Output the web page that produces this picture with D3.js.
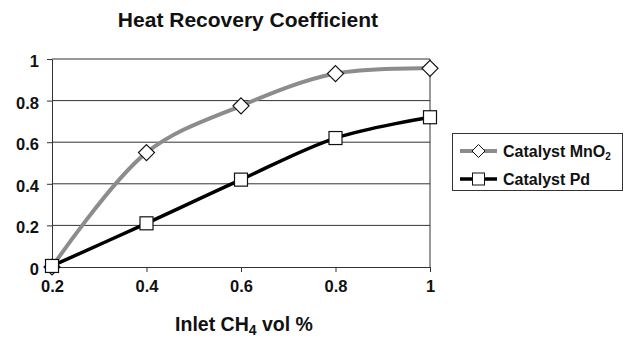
<!DOCTYPE html>
<html><head><meta charset="utf-8">
<script src="https://cdn.jsdelivr.net/npm/d3@7"></script>
<style>body{margin:0;background:#fff}svg{display:block}text{font-family:"Liberation Sans",Arial,sans-serif;font-weight:bold;fill:#111}</style>
</head><body><svg id="c" width="628" height="340"></svg>
<script>
const xValues=[0.2,0.4,0.6,0.8,1.0];
const mno2=[0.0,0.55,0.775,0.93,0.955];
const pd=[0.005,0.21,0.42,0.62,0.72];
const xTicks=[0.2,0.4,0.6,0.8,1];
const yTicks=[0,0.2,0.4,0.6,0.8,1];
const seriesNames=["Catalyst MnO","Catalyst Pd"];

const svg=d3.select("#c");
const x=d3.scaleLinear().domain([0.2,1]).range([52,430]);
const y=d3.scaleLinear().domain([0,1]).range([267,59]);

svg.append("g").selectAll("line").data(yTicks.filter(d=>d>0)).join("line")
 .attr("x1",x(0.2)).attr("x2",x(1)).attr("y1",d=>y(d)).attr("y2",d=>y(d))
 .attr("stroke","#333").attr("stroke-width",1);
svg.append("line").attr("x1",x(1)).attr("x2",x(1)).attr("y1",y(1)).attr("y2",y(0)).attr("stroke","#333");

const yAxis=svg.append("g").attr("transform",`translate(${x(0.2)},0)`)
 .call(d3.axisLeft(y).tickValues(yTicks).tickFormat(d3.format("")).tickSize(5).tickSizeOuter(0));
const xAxis=svg.append("g").attr("transform",`translate(0,${y(0)})`)
 .call(d3.axisBottom(x).tickValues(xTicks).tickFormat(d3.format("")).tickSize(5).tickSizeOuter(0));
[yAxis,xAxis].forEach(a=>{a.select(".domain").attr("stroke","#333");a.selectAll(".tick line").attr("stroke","#333");
 a.selectAll("text").style("font-size","16.5px").style("font-family","Liberation Sans, Arial, sans-serif").style("font-weight","bold").attr("fill","#111");});
yAxis.selectAll("text").attr("x",-13).attr("dy","0.45em");
xAxis.selectAll("text").attr("y",13);

const line=d3.line().x((d,i)=>x(xValues[i])).y(d=>y(d)).curve(d3.curveCatmullRom.alpha(0.5));
svg.append("path").datum(mno2).attr("d",line).attr("fill","none").attr("stroke","#8c8c8c").attr("stroke-width",4);
svg.append("path").datum(pd).attr("d",line).attr("fill","none").attr("stroke","#000").attr("stroke-width",3.5);

function diamondPath(cx,cy,r){return `M${cx},${cy-r}L${cx+r},${cy}L${cx},${cy+r}L${cx-r},${cy}Z`;}
svg.append("g").selectAll("path").data(mno2).join("path")
 .attr("d",(d,i)=>diamondPath(x(xValues[i]),y(d),8)).attr("fill","#fff").attr("stroke","#111").attr("stroke-width",1.2);
svg.append("g").selectAll("rect").data(pd).join("rect")
 .attr("x",(d,i)=>x(xValues[i])-6.5).attr("y",d=>y(d)-6.5).attr("width",13).attr("height",13)
 .attr("fill","#fff").attr("stroke","#111").attr("stroke-width",1.2);

svg.append("text").attr("x",248).attr("y",27).attr("text-anchor","middle").style("font-size","21px").text("Heat Recovery Coefficient");
const xt=svg.append("text").attr("x",244).attr("y",331).attr("text-anchor","middle").style("font-size","19.5px");
xt.append("tspan").text("Inlet CH");
xt.append("tspan").attr("dy",4).style("font-size","14px").text("4");
xt.append("tspan").attr("dy",-4).text(" vol %");

const lg=svg.append("g");
lg.append("rect").attr("x",452.5).attr("y",133.5).attr("width",170).attr("height",57).attr("fill","#fff").attr("stroke","#333");
const rows=[{y:151,color:"#8c8c8c",w:4,m:"d"},{y:179,color:"#000",w:3.5,m:"s"}];
rows.forEach((r,i)=>{
 lg.append("line").attr("x1",460).attr("x2",497).attr("y1",r.y).attr("y2",r.y).attr("stroke",r.color).attr("stroke-width",r.w);
 if(r.m==="d") lg.append("path").attr("d",diamondPath(478.5,r.y,6.5)).attr("fill","#fff").attr("stroke","#111");
 else lg.append("rect").attr("x",472.5).attr("y",r.y-6).attr("width",12).attr("height",12).attr("fill","#fff").attr("stroke","#111");
 const t=lg.append("text").attr("x",503).attr("y",r.y+6).style("font-size","16px");
 t.append("tspan").text(seriesNames[i]);
 if(i===0) t.append("tspan").attr("dy",3).style("font-size","10px").text("2");
});
</script></body></html>
